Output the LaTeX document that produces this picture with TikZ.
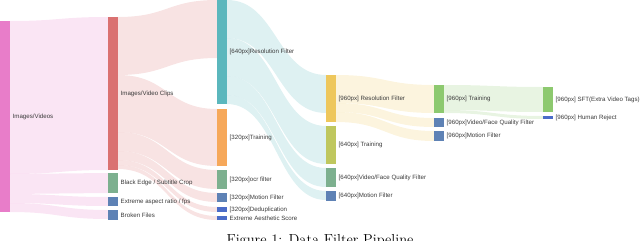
\documentclass[tikz,border=0pt]{standalone}
\usepackage{fontspec}
\newfontfamily\labfont{Liberation Sans}
\usetikzlibrary{calc,backgrounds}
\definecolor{cpink}{HTML}{E87DC9}
\definecolor{cred}{HTML}{DA7171}
\definecolor{cgreen}{HTML}{7DB08F}
\definecolor{cblue}{HTML}{5E82B5}
\definecolor{cdeep}{HTML}{4B6CC8}
\definecolor{cteal}{HTML}{5BB7BD}
\definecolor{corange}{HTML}{F6A85A}
\definecolor{colive}{HTML}{BFC75E}
\definecolor{cyellow}{HTML}{EEC75C}
\definecolor{clgreen}{HTML}{8DC96F}
\definecolor{ctext}{HTML}{3A3A3A}
\tikzset{
  sknode/.style={rectangle, inner sep=0pt, outer sep=0pt, minimum width=10pt},
  sklabel/.style={font=\labfont\fontsize{6.15}{7}\selectfont, text=ctext, inner sep=0pt, anchor=west, xshift=2.5pt},
}
% #1 source node, #2 offset in source, #3 target node, #4 offset in target, #5 width, #6 colour
\newcommand\sklink[6]{%
  \coordinate (s1) at ([yshift=-#2pt]#1.north east);
  \coordinate (s2) at ([yshift=-#2pt-#5pt]#1.north east);
  \coordinate (t1) at ([yshift=-#4pt]#3.north west);
  \coordinate (t2) at ([yshift=-#4pt-#5pt]#3.north west);
  \coordinate (mm) at ($(s1)!0.5!(t1)$);
  \fill[#6, fill opacity=0.2] (s1) .. controls (mm |- s1) and (mm |- t1) .. (t1) -- (t2) .. controls (mm |- t2) and (mm |- s2) .. (s2) -- cycle;
}
% #1 name, #2 x left, #3 top, #4 bottom, #5 colour, #6 label
\newcommand\sknd[6]{%
  \node[sknode, fill=#5, minimum height={(#4)-(#3)}] (#1) at ({#2+5}, {((#3)+(#4))/2}) {};
  \node[sklabel] (#1-l) at (#1.east) {#6};
}
\begin{document}
\begin{tikzpicture}[x=1pt, y=-1pt]
\useasboundingbox (0,0) rectangle (640,241);
% nodes
\sknd{v}{0}{21}{212}{cpink}{Images/Videos}
\sknd{clips}{108}{17}{170}{cred}{Images/Video Clips}
\sknd{black}{108}{173}{193}{cgreen}{Black Edge / Subtitle Crop}
\sknd{aspect}{108}{197}{206}{cblue}{Extreme aspect ratio / fps}
\sknd{broken}{108}{210}{220}{cblue}{Broken Files}
\sknd{resA}{217}{0}{104}{cteal}{[640px]Resolution Filter}
\sknd{trA}{217}{109}{166}{corange}{[320px]Training}
\sknd{ocr}{217}{170}{189}{cgreen}{[320px]ocr filter}
\sknd{motA}{217}{193}{202}{cblue}{[320px]Motion Filter}
\sknd{dedup}{217}{207}{212}{cdeep}{[320px]Deduplication}
\sknd{aest}{217}{216}{220}{cdeep}{Extreme Aesthetic Score}
\sknd{resB}{326}{75}{122}{cyellow}{[960px] Resolution Filter}
\sknd{trB}{326}{126}{164}{colive}{[640px] Training}
\sknd{vfB}{326}{168}{187}{cgreen}{[640px]Video/Face Quality Filter}
\sknd{motB}{326}{191}{201}{cblue}{[640px]Motion Filter}
\sknd{trC}{434}{85}{113}{clgreen}{[960px] Training}
\sknd{vfC}{434}{118}{127}{cblue}{[960px]Video/Face Quality Filter}
\sknd{motC}{434}{131}{141}{cblue}{[960px]Motion Filter}
\sknd{sft}{543}{87}{112}{clgreen}{[960px] SFT(Extra Video Tags)}
\sknd{hr}{543}{116}{119}{cdeep}{[960px] Human Reject}
% links
\begin{pgfonlayer}{background}
\sklink{v}{0}{clips}{0}{153}{cpink}
\sklink{v}{153}{black}{0}{20}{cpink}
\sklink{v}{173}{aspect}{0}{9}{cpink}
\sklink{v}{182}{broken}{0}{9}{cpink}
\sklink{clips}{0}{resA}{0}{58}{cred}
\sklink{clips}{58}{trA}{0}{57}{cred}
\sklink{clips}{115}{ocr}{0}{19}{cred}
\sklink{clips}{134}{motA}{0}{9}{cred}
\sklink{clips}{143}{dedup}{0}{5}{cred}
\sklink{clips}{148}{aest}{0}{4}{cred}
\sklink{resA}{0}{resB}{0}{38}{cteal}
\sklink{resA}{38}{trB}{0}{38}{cteal}
\sklink{resA}{76}{vfB}{0}{19}{cteal}
\sklink{resA}{95}{motB}{0}{9}{cteal}
\sklink{resB}{0}{trC}{0}{28}{cyellow}
\sklink{resB}{28}{vfC}{0}{9}{cyellow}
\sklink{resB}{37}{motC}{0}{10}{cyellow}
\sklink{trC}{0}{sft}{0}{25}{clgreen}
\sklink{trC}{25}{hr}{0}{3}{clgreen}
\end{pgfonlayer}
% caption
\node[font=\fontsize{14.5}{17}\selectfont, anchor=base, inner sep=0pt] (cap) at (320,244) {Figure 1: Data Filter Pipeline};
\end{tikzpicture}
\end{document}
